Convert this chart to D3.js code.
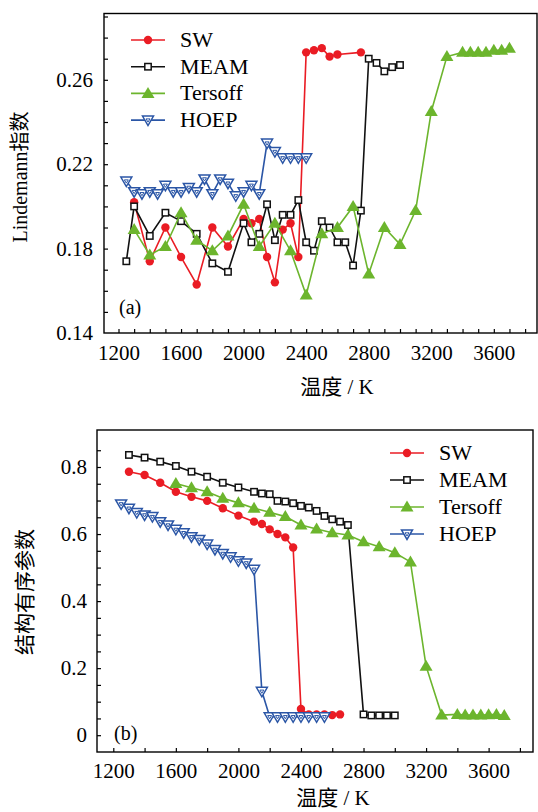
<!DOCTYPE html>
<html lang="zh">
    <head>
        <title>Lindemann index and structural order parameter</title>
        <script src="https://d3js.org/d3.v7.min.js"></script>
        <style>
            body { margin: 0; background: #fff; }
            text { font-family: "Liberation Serif", "Noto Sans CJK SC", serif; fill: #000; }
        </style>
    </head>
    <body>
    <div id="mainDiv"></div>

        <script type="text/javascript">
            // ---- panel (a): Lindemann index ----
            const swTempA = [1300, 1400, 1500, 1600, 1700, 1800, 1900, 2000, 2050, 2100, 2150, 2200, 2250, 2300, 2350, 2400, 2450, 2500, 2550, 2600, 2750]
            const swLindemann = [0.202, 0.174, 0.190, 0.176, 0.163, 0.190, 0.181, 0.194, 0.192, 0.194, 0.176, 0.164, 0.189, 0.192, 0.176, 0.273, 0.274, 0.275, 0.271, 0.272, 0.273]

            const meamTempA = [1250, 1300, 1400, 1500, 1600, 1700, 1800, 1900, 2000, 2050, 2100, 2150, 2200, 2250, 2300, 2350, 2400, 2450, 2500, 2550, 2600, 2650, 2700, 2750, 2800, 2850, 2900, 2950, 3000]
            const meamLindemann = [0.174, 0.200, 0.186, 0.197, 0.193, 0.187, 0.173, 0.169, 0.192, 0.183, 0.187, 0.201, 0.184, 0.196, 0.196, 0.203, 0.183, 0.179, 0.193, 0.190, 0.183, 0.183, 0.172, 0.198, 0.270, 0.268, 0.264, 0.266, 0.267]

            const tersoffTempA = [1300, 1400, 1500, 1600, 1700, 1800, 1900, 2000, 2100, 2200, 2300, 2400, 2500, 2600, 2700, 2800, 2900, 3000, 3100, 3200, 3300, 3400, 3450, 3500, 3550, 3600, 3650, 3700]
            const tersoffLindemann = [0.189, 0.177, 0.181, 0.197, 0.184, 0.179, 0.186, 0.201, 0.181, 0.192, 0.179, 0.158, 0.187, 0.190, 0.200, 0.168, 0.190, 0.182, 0.198, 0.245, 0.271, 0.273, 0.273, 0.273, 0.273, 0.274, 0.274, 0.275]

            const hoepTempA = [1250, 1300, 1350, 1400, 1450, 1500, 1550, 1600, 1650, 1700, 1750, 1800, 1850, 1900, 1950, 2000, 2050, 2100, 2150, 2200, 2250, 2300, 2350, 2400]
            const hoepLindemann = [0.212, 0.207, 0.206, 0.207, 0.206, 0.210, 0.207, 0.207, 0.209, 0.207, 0.213, 0.206, 0.213, 0.211, 0.205, 0.207, 0.210, 0.206, 0.230, 0.226, 0.223, 0.223, 0.223, 0.223]

            // ---- panel (b): structural order parameter ----
            const swTempB = [1300, 1400, 1500, 1600, 1700, 1800, 1900, 2000, 2100, 2150, 2200, 2250, 2300, 2350, 2400, 2450, 2500, 2550, 2600, 2650]
            const swOrder = [0.786, 0.776, 0.753, 0.726, 0.711, 0.699, 0.677, 0.655, 0.637, 0.630, 0.614, 0.600, 0.590, 0.560, 0.078, 0.062, 0.062, 0.062, 0.060, 0.062]

            const meamTempB = [1300, 1400, 1500, 1600, 1700, 1800, 1900, 2000, 2100, 2150, 2200, 2250, 2300, 2350, 2400, 2450, 2500, 2550, 2600, 2650, 2700, 2800, 2850, 2900, 2950, 3000]
            const meamOrder = [0.836, 0.828, 0.816, 0.803, 0.786, 0.771, 0.753, 0.739, 0.726, 0.721, 0.719, 0.699, 0.697, 0.692, 0.684, 0.679, 0.669, 0.654, 0.644, 0.637, 0.627, 0.062, 0.059, 0.059, 0.059, 0.059]

            const tersoffTempB = [1600, 1700, 1800, 1900, 2000, 2100, 2200, 2300, 2400, 2500, 2600, 2700, 2800, 2900, 3000, 3100, 3200, 3300, 3400, 3450, 3500, 3550, 3600, 3650, 3700]
            const tersoffOrder = [0.751, 0.738, 0.726, 0.707, 0.693, 0.677, 0.665, 0.652, 0.627, 0.615, 0.604, 0.597, 0.577, 0.562, 0.544, 0.517, 0.206, 0.060, 0.062, 0.060, 0.060, 0.060, 0.061, 0.062, 0.059]

            const hoepTempB = [1250, 1300, 1350, 1400, 1450, 1500, 1550, 1600, 1650, 1700, 1750, 1800, 1850, 1900, 1950, 2000, 2050, 2100, 2150, 2200, 2250, 2300, 2350, 2400, 2450, 2500, 2550]
            const hoepOrder = [0.690, 0.677, 0.664, 0.657, 0.652, 0.637, 0.627, 0.614, 0.604, 0.592, 0.584, 0.570, 0.554, 0.542, 0.532, 0.520, 0.514, 0.495, 0.131, 0.055, 0.055, 0.055, 0.055, 0.055, 0.055, 0.055, 0.055]

            const seriesNames = ['SW', 'MEAM', 'Tersoff', 'HOEP']
            const xTickLabels = [1200, 1600, 2000, 2400, 2800, 3200, 3600]
            const yTickLabelsA = [0.14, 0.18, 0.22, 0.26]
            const yTickLabelsB = [0, 0.2, 0.4, 0.6, 0.8]

            const colors = { SW: '#ea1c24', MEAM: '#111111', Tersoff: '#6cb52d', HOEP: '#2b56a6' }

            const width = 538
            const height = 812

            const svg = d3.select('#mainDiv').append('svg')
                .attr('width', width)
                .attr('height', height)

            const zip = (xs, ys) => xs.map((x, i) => [x, ys[i]])

            function drawMarker(g, name, x, y) {
                const c = colors[name]
                if (name === 'SW') {
                    g.append('circle').attr('cx', x).attr('cy', y).attr('r', 4.2).attr('fill', c)
                } else if (name === 'MEAM') {
                    g.append('rect').attr('x', x - 3.2).attr('y', y - 3.2).attr('width', 6.4).attr('height', 6.4)
                        .attr('fill', '#fff').attr('stroke', c).attr('stroke-width', 1.5)
                } else if (name === 'Tersoff') {
                    g.append('path').attr('d', `M${x},${y - 6.5}L${x + 6.5},${y + 4.5}L${x - 6.5},${y + 4.5}Z`).attr('fill', c)
                } else {
                    g.append('path').attr('d', `M${x - 5.5},${y - 4}L${x + 5.5},${y - 4}L${x},${y + 5.5}Z`)
                        .attr('fill', '#fff').attr('stroke', c).attr('stroke-width', 1.5)
                    g.append('path').attr('d', `M${x - 2},${y - 1.2}L${x + 2},${y - 1.2}L${x},${y + 2}Z`)
                        .attr('fill', 'none').attr('stroke', c).attr('stroke-width', 1)
                }
            }

            function drawPanel(p) {
                const g = svg.append('g')
                const xScale = d3.scaleLinear().domain([1200, 3800]).range(p.xRange)
                const yScale = d3.scaleLinear().domain(p.yDomain).range(p.yRange)

                // frame
                g.append('rect')
                    .attr('x', p.box.left).attr('y', p.box.top)
                    .attr('width', p.box.right - p.box.left).attr('height', p.box.bottom - p.box.top)
                    .attr('fill', 'none').attr('stroke', '#000').attr('stroke-width', 1.4)

                // x axis: minor ticks inward, labels below
                g.append('g')
                    .attr('transform', `translate(0, ${p.box.bottom})`)
                    .call(d3.axisBottom(xScale).tickValues(d3.range(1200, 3801, p.xMinor)).tickSize(-4).tickFormat(''))
                    .call(a => a.select('.domain').remove())
                    .call(a => a.selectAll('line').attr('stroke-width', 1.2))
                g.append('g')
                    .attr('transform', `translate(0, ${p.box.bottom})`)
                    .call(d3.axisBottom(xScale).tickValues(xTickLabels).tickSize(0).tickPadding(p.xPad).tickFormat(d3.format('d')))
                    .call(a => a.select('.domain').remove())
                    .call(a => a.selectAll('text').style('font-size', '21px').style('font-family', '"Liberation Serif", serif'))

                // y axis
                g.append('g')
                    .attr('transform', `translate(${p.box.left}, 0)`)
                    .call(d3.axisLeft(yScale).tickValues(p.yMinor).tickSize(-4).tickFormat(''))
                    .call(a => a.select('.domain').remove())
                    .call(a => a.selectAll('line').attr('stroke-width', 1.2))
                g.append('g')
                    .attr('transform', `translate(${p.box.left}, 0)`)
                    .call(d3.axisLeft(yScale).tickValues(p.yLabels).tickSize(0).tickPadding(p.yPad).tickFormat(p.yFormat))
                    .call(a => a.select('.domain').remove())
                    .call(a => a.selectAll('text').style('font-size', '21px').style('font-family', '"Liberation Serif", serif'))

                // series
                const line = d3.line().x(d => xScale(d[0])).y(d => yScale(d[1]))
                p.series.forEach(s => {
                    const pts = zip(s.x, s.y)
                    g.append('path').datum(pts)
                        .attr('d', line).attr('fill', 'none')
                        .attr('stroke', colors[s.name]).attr('stroke-width', 1.6)
                    const mg = g.append('g')
                    pts.forEach(d => drawMarker(mg, s.name, xScale(d[0]), yScale(d[1])))
                })

                // legend
                seriesNames.forEach((name, i) => {
                    const y = p.legend.y + i * p.legend.dy
                    g.append('line')
                        .attr('x1', p.legend.x).attr('x2', p.legend.x + 34)
                        .attr('y1', y).attr('y2', y)
                        .attr('stroke', colors[name]).attr('stroke-width', 1.6)
                    drawMarker(g, name, p.legend.x + 17, y)
                    g.append('text')
                        .attr('x', p.legend.x + 49).attr('y', y + 7)
                        .style('font-size', '22px')
                        .text(name)
                })

                // panel tag
                g.append('text').attr('x', p.tag.x).attr('y', p.tag.y)
                    .style('font-size', '20px').text(p.tag.text)

                // axis titles
                g.append('text')
                    .attr('x', p.xTitle.x).attr('y', p.xTitle.y)
                    .attr('text-anchor', 'middle')
                    .style('font-size', '21px')
                    .text('温度 / K')
                g.append('text')
                    .attr('transform', `translate(${p.yTitle.x}, ${p.yTitle.y}) rotate(-90)`)
                    .attr('text-anchor', 'middle')
                    .style('font-size', p.yTitle.size)
                    .text(p.yTitle.text)
            }

            drawPanel({
                box: { left: 104, top: 13.5, right: 537, bottom: 333 },
                xRange: [118.5, 525.1],
                yDomain: [0.14, 0.29],
                yRange: [333, 16.5],
                xMinor: 100,
                xPad: 12,
                yMinor: d3.range(0.15, 0.2901, 0.01),
                yLabels: yTickLabelsA,
                yFormat: d3.format('.2f'),
                yPad: 11,
                series: [
                    { name: 'SW', x: swTempA, y: swLindemann },
                    { name: 'MEAM', x: meamTempA, y: meamLindemann },
                    { name: 'Tersoff', x: tersoffTempA, y: tersoffLindemann },
                    { name: 'HOEP', x: hoepTempA, y: hoepLindemann }
                ],
                legend: { x: 131, y: 40, dy: 26.7 },
                tag: { x: 119, y: 314, text: '(a)' },
                xTitle: { x: 337, y: 394 },
                yTitle: { x: 27, y: 177, text: 'Lindemann指数', size: '20px' }
            })

            drawPanel({
                box: { left: 97, top: 430, right: 533, bottom: 752 },
                xRange: [113.3, 519.9],
                yDomain: [0, 0.8],
                yRange: [735.2, 467],
                xMinor: 200,
                xPad: 11,
                yMinor: d3.range(0, 0.8501, 0.05),
                yLabels: yTickLabelsB,
                yFormat: d => d === 0 ? '0' : d3.format('.1f')(d),
                yPad: 10,
                series: [
                    { name: 'SW', x: swTempB, y: swOrder },
                    { name: 'MEAM', x: meamTempB, y: meamOrder },
                    { name: 'Tersoff', x: tersoffTempB, y: tersoffOrder },
                    { name: 'HOEP', x: hoepTempB, y: hoepOrder }
                ],
                legend: { x: 390, y: 453, dy: 27 },
                tag: { x: 114, y: 740, text: '(b)' },
                xTitle: { x: 333, y: 805 },
                yTitle: { x: 32, y: 592, text: '结构有序参数', size: '21px' }
            })
        </script>
    </body>
</html>
